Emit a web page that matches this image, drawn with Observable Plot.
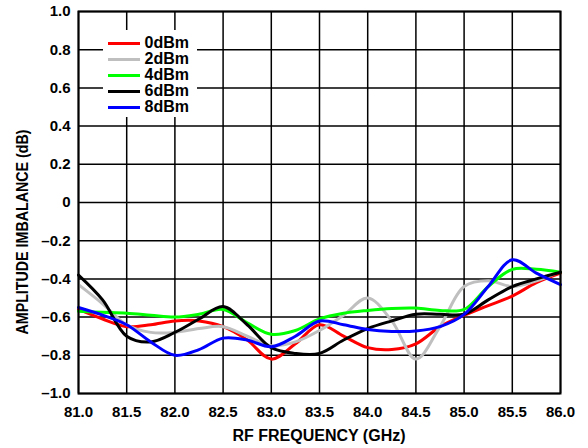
<!DOCTYPE html>
<html>
<head>
<meta charset="utf-8">
<script src="https://cdn.jsdelivr.net/npm/d3@7"></script>
<script src="https://cdn.jsdelivr.net/npm/@observablehq/plot@0.6"></script>
<style>
  html, body { margin: 0; padding: 0; background: white; }
  #wrap { position: relative; width: 588px; height: 448px; }
  #legend { position: absolute; left: 103px; top: 30px; width: 94px; height: 87px; background: white;
    font-family: "Liberation Sans", Arial, sans-serif; font-weight: bold; font-size: 16px; }
  .row { position: absolute; left: 0; height: 16px; }
  .sw { position: absolute; left: 4.5px; width: 32px; height: 3px; top: 6.5px; }
  .lb { position: absolute; left: 41.5px; top: 0; line-height: 16px; white-space: nowrap; }
</style>
</head>
<body>
<div id="wrap"><div id="legend"></div></div>
<script>
const freq = [81, 81.25, 81.5, 81.75, 82, 82.25, 82.5, 82.75, 83, 83.25, 83.5, 83.75, 84, 84.25, 84.5, 84.75, 85, 85.25, 85.5, 85.75, 86];
const p0dBm = [-0.56, -0.61, -0.65, -0.64, -0.62, -0.62, -0.65, -0.72, -0.82, -0.74, -0.64, -0.70, -0.76, -0.77, -0.74, -0.65, -0.59, -0.54, -0.49, -0.42, -0.37];
const p2dBm = [-0.43, -0.53, -0.64, -0.68, -0.68, -0.66, -0.65, -0.70, -0.75, -0.73, -0.67, -0.59, -0.50, -0.62, -0.82, -0.65, -0.44, -0.41, -0.44, -0.41, -0.36];
const p4dBm = [-0.57, -0.575, -0.58, -0.59, -0.60, -0.585, -0.56, -0.63, -0.69, -0.67, -0.61, -0.58, -0.565, -0.555, -0.553, -0.565, -0.56, -0.44, -0.35, -0.35, -0.365];
const p6dBm = [-0.38, -0.51, -0.70, -0.73, -0.68, -0.61, -0.545, -0.64, -0.76, -0.79, -0.79, -0.72, -0.66, -0.62, -0.585, -0.585, -0.585, -0.51, -0.44, -0.40, -0.365];
const p8dBm = [-0.55, -0.59, -0.64, -0.73, -0.80, -0.77, -0.71, -0.72, -0.755, -0.70, -0.62, -0.64, -0.665, -0.675, -0.673, -0.65, -0.586, -0.44, -0.30, -0.37, -0.43];
const seriesNames = ["0dBm", "2dBm", "4dBm", "6dBm", "8dBm"];
const seriesColors = ["#ff0000", "#bfbfbf", "#00ff00", "#000000", "#0000ff"];
const seriesValues = [p0dBm, p2dBm, p4dBm, p6dBm, p8dBm];
const xTicks = [81, 81.5, 82, 82.5, 83, 83.5, 84, 84.5, 85, 85.5, 86];
const yTicks = [-1, -0.8, -0.6, -0.4, -0.2, 0, 0.2, 0.4, 0.6, 0.8, 1];
const xTitle = "RF FREQUENCY (GHz)";
const yTitle = "AMPLITUDE IMBALANCE (dB)";

const rows = [];
seriesValues.forEach((vals, i) => vals.forEach((v, j) => rows.push({x: freq[j], y: v, s: seriesNames[i]})));

const yFmt = d => d === 0 ? "0" : d.toFixed(1).replace("-", "\u2013");
const xFmt = d => d.toFixed(1);

const W = 588, H = 448, mL = 78, mR = 28, mT = 11, mB = 55;

const chart = Plot.plot({
  width: W, height: H,
  marginLeft: mL, marginRight: mR, marginTop: mT, marginBottom: mB,
  style: {fontFamily: "'Liberation Sans', Arial, sans-serif", fontSize: "15px", fontWeight: "bold", color: "black", background: "white", overflow: "visible"},
  x: {domain: [81, 86], label: null},
  y: {domain: [-1, 1], label: null},
  color: {domain: seriesNames, range: seriesColors},
  marks: [
    Plot.gridX(xTicks, {stroke: "black", strokeOpacity: 1, strokeWidth: 1.5}),
    Plot.gridY(yTicks, {stroke: "black", strokeOpacity: 1, strokeWidth: 1.5}),
    Plot.axisX(xTicks, {tickSize: 0, tickPadding: 13, tickFormat: xFmt, label: null}),
    Plot.axisY(yTicks, {tickSize: 0, tickPadding: 8, tickFormat: yFmt, label: null}),
    ...seriesNames.map(name => Plot.line(rows.filter(r => r.s === name), {x: "x", y: "y", stroke: "s", strokeWidth: 3, curve: "catmull-rom"})),
    Plot.frame({stroke: "black", strokeWidth: 2})
  ]
});

const svg = d3.select(chart.tagName.toLowerCase() === "svg" ? chart : chart.querySelector("svg"));
svg.append("text")
  .attr("x", (mL + W - mR) / 2)
  .attr("y", 441)
  .attr("text-anchor", "middle")
  .attr("font-family", "'Liberation Sans', Arial, sans-serif")
  .attr("font-size", 16)
  .attr("font-weight", "bold")
  .attr("fill", "black")
  .text(xTitle);
svg.append("text")
  .attr("transform", "translate(27.5,232) rotate(-90)")
  .attr("text-anchor", "middle")
  .attr("font-family", "'Liberation Sans', Arial, sans-serif")
  .attr("font-size", 17)
  .attr("font-weight", "bold")
  .attr("fill", "black")
  .attr("textLength", 205)
  .attr("lengthAdjust", "spacingAndGlyphs")
  .text(yTitle);

document.getElementById("wrap").prepend(chart);

const legend = document.getElementById("legend");
seriesNames.forEach((name, i) => {
  const row = document.createElement("div");
  row.className = "row";
  row.style.top = (5 + i * 16) + "px";
  row.innerHTML = `<div class="sw" style="background:${seriesColors[i]}"></div><div class="lb">${name}</div>`;
  legend.appendChild(row);
});
</script>
</body>
</html>
